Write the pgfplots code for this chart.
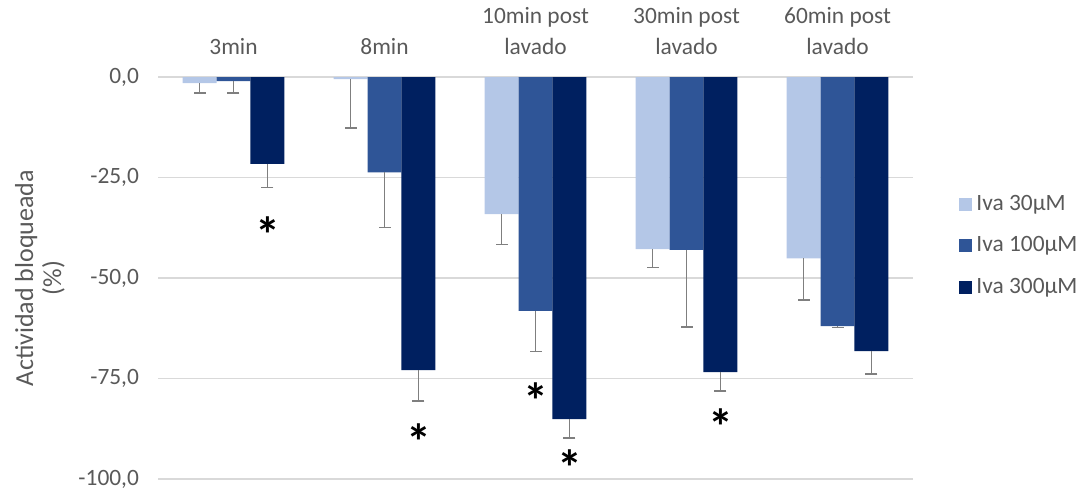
\documentclass[border=0pt]{standalone}
\usepackage{pgfplots}
\pgfplotsset{compat=1.18}
\usepackage{fontspec}
\setmainfont{Carlito}
\definecolor{cLight}{HTML}{B4C7E7}
\definecolor{cMid}{HTML}{2F5597}
\definecolor{cDark}{HTML}{002060}
\definecolor{txt}{HTML}{595959}
\definecolor{gridc}{HTML}{D9D9D9}
\definecolor{errc}{HTML}{7F7F7F}
\begin{document}
\begin{tikzpicture}
\begin{axis}[
  scale only axis,
  width=377.5pt, height=201pt,
  xmin=-0.5, xmax=4.5,
  ymin=-100, ymax=0,
  ybar, bar width=0.225,
  axis line style={draw=none},
  major tick length=0pt,
  xtick={0,1,2,3,4},
  xticklabels={3min,8min,{10min post\\lavado},{30min post\\lavado},{60min post\\lavado}},
  xticklabel pos=upper,
  xticklabel style={align=center, text=txt, font=\fontsize{11.7}{15.5}\selectfont, anchor=south, yshift=7.5pt},
  ytick={-100,-75,-50,-25,0},
  yticklabels={{-100,0},{-75,0},{-50,0},{-25,0},{0,0}},
  yticklabel style={text=txt, font=\fontsize{11.7}{14}\selectfont, xshift=-6pt},
  ymajorgrids,
  grid style={gridc, line width=0.6pt},
  ylabel={Actividad bloqueada\\(\%)},
  ylabel style={align=center, text=txt, font=\fontsize{13}{14}\selectfont},
  legend style={draw=none, fill=none, at={(1,0.58)}, anchor=west, xshift=20pt,
    font=\fontsize{11.7}{14}\selectfont, text=txt, row sep=7.5pt},
  legend cell align=left,
  legend image code/.code={\fill[#1] (0pt,-3.25pt) rectangle (6.5pt,3.25pt);},
]
\addplot[bar shift=-0.225, fill=cLight, draw=none,
  error bars/.cd, y dir=minus, y explicit,
  error bar style={errc, line width=0.65pt},
  error mark options={errc, mark size=3pt, line width=0.65pt, rotate=90}]
  coordinates {(0,-1.5) -= (0,2.5) (1,-0.5) -= (0,12.2) (2,-34.1) -= (0,7.6) (3,-42.8) -= (0,4.6) (4,-45.1) -= (0,10.4)};
\addlegendentry{Iva 30µM}
\addplot[bar shift=0, fill=cMid, draw=none,
  error bars/.cd, y dir=minus, y explicit,
  error bar style={errc, line width=0.65pt},
  error mark options={errc, mark size=3pt, line width=0.65pt, rotate=90}]
  coordinates {(0,-1.0) -= (0,3.0) (1,-23.7) -= (0,13.8) (2,-58.2) -= (0,10.0) (3,-43.0) -= (0,19.2) (4,-62.0) -= (0,0.3)};
\addlegendentry{Iva 100µM}
\addplot[bar shift=0.225, fill=cDark, draw=none,
  error bars/.cd, y dir=minus, y explicit,
  error bar style={errc, line width=0.65pt},
  error mark options={errc, mark size=3pt, line width=0.65pt, rotate=90}]
  coordinates {(0,-21.6) -= (0,5.8) (1,-72.9) -= (0,7.7) (2,-85.1) -= (0,4.7) (3,-73.4) -= (0,4.7) (4,-68.2) -= (0,5.7)};
\addlegendentry{Iva 300µM}
\addplot[only marks, bar shift=0, mark=text, text mark={\fontsize{25}{25}\selectfont\bfseries *}, black, forget plot]
  coordinates {(0.225,-39.1) (1.225,-90.6) (2,-80.4) (2.225,-97.1) (3.225,-86.9)};
\end{axis}
\pgfresetboundingbox
\path[use as bounding box] ([shift={(-79pt,-7.5pt)}]current axis.south west) rectangle ([shift={(85pt,38.5pt)}]current axis.north east);
\end{tikzpicture}
\end{document}
